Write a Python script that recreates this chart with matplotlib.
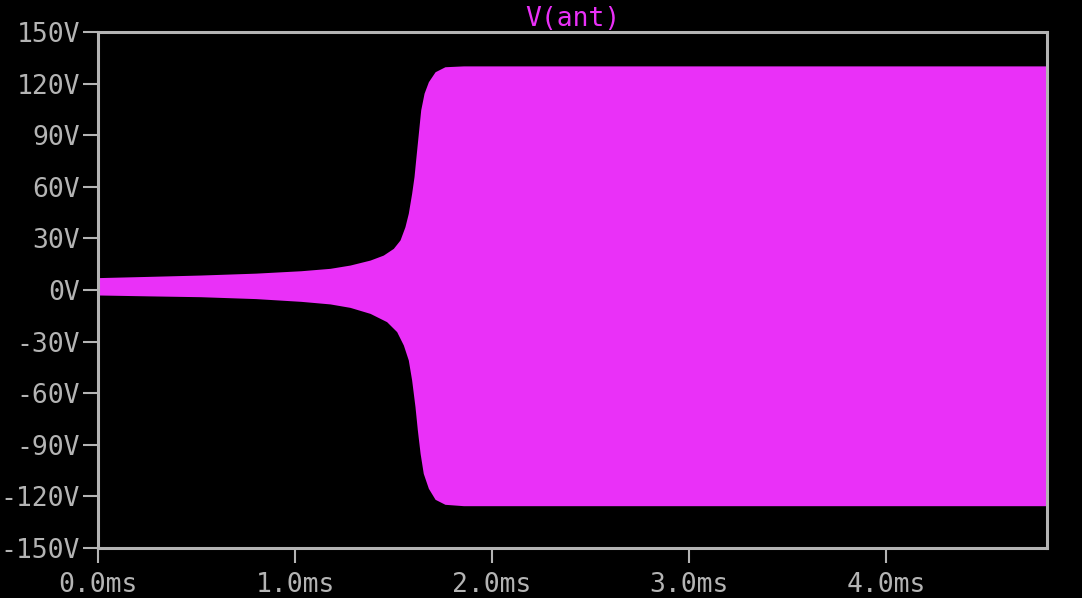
import matplotlib
matplotlib.use("Agg")
import matplotlib.pyplot as plt
import numpy as np

# Envelope of V(ant) (time in ms, volts)
t_upper = [0.0, 0.25, 0.52, 0.80, 1.03, 1.178, 1.279, 1.381, 1.448, 1.499,
           1.533, 1.558, 1.575, 1.592, 1.604, 1.614, 1.626, 1.638, 1.655,
           1.677, 1.711, 1.761, 1.855, 2.0, 3.0, 4.0, 4.82]
v_upper = [7.2, 7.9, 8.7, 9.8, 11.2, 12.6, 14.5, 17.4, 20.3, 24.2,
           29.1, 36.8, 44.6, 56.2, 65.9, 77.5, 91.1, 104.7, 114.4,
           121.1, 126.9, 129.8, 130.3, 130.3, 130.3, 130.3, 130.3]
t_lower = [0.0, 0.25, 0.52, 0.80, 1.03, 1.178, 1.279, 1.381, 1.465, 1.516,
           1.550, 1.575, 1.592, 1.609, 1.621, 1.635, 1.651, 1.677, 1.711,
           1.761, 1.855, 2.0, 3.0, 4.0, 4.82]
v_lower = [-2.9, -3.4, -3.9, -5.0, -6.6, -8.1, -10.1, -13.6, -18.4, -24.2,
           -32.0, -40.7, -52.3, -67.8, -81.4, -95.0, -106.6, -115.3, -121.7,
           -124.6, -125.4, -125.4, -125.4, -125.4, -125.4]

y_ticks = [150, 120, 90, 60, 30, 0, -30, -60, -90, -120, -150]
y_labels = ["150V", "120V", "90V", "60V", "30V", "0V", "-30V", "-60V", "-90V", "-120V", "-150V"]
x_ticks = [0.0, 1.0, 2.0, 3.0, 4.0]
x_labels = ["0.0ms", "1.0ms", "2.0ms", "3.0ms", "4.0ms"]
title = "V(ant)"

trace_color = "#EA30F8"
grey = "#B4B4B4"

fig = plt.figure(figsize=(10.82, 5.98), dpi=100, facecolor="black")
ax = fig.add_axes([98/1082, 50/598, (1047-98)/1082, (548-32)/598])
ax.set_facecolor("black")

t_all = np.union1d(t_upper, t_lower)
up = np.interp(t_all, t_upper, v_upper)
lo = np.interp(t_all, t_lower, v_lower)
ax.fill_between(t_all, lo, up, color=trace_color, linewidth=0)

ax.set_xlim(0, 4.817)
ax.set_ylim(-150, 150)
ax.set_yticks(y_ticks)
ax.set_yticklabels(y_labels)
ax.set_xticks(x_ticks)
ax.set_xticklabels(x_labels)

mono = "DejaVu Sans Mono"
for lab in ax.get_xticklabels() + ax.get_yticklabels():
    lab.set_fontfamily(mono)
    lab.set_fontsize(19)
    lab.set_color(grey)

ax.tick_params(axis="both", direction="out", length=11, width=1.5, color=grey)
ax.tick_params(axis="y", pad=2)
ax.tick_params(axis="x", pad=6)
for s in ax.spines.values():
    s.set_color(grey)
    s.set_linewidth(2.2)

ax.set_title(title, fontfamily=mono, fontsize=19, color=trace_color, pad=3)

fig.savefig("out.png", dpi=100, facecolor="black")
